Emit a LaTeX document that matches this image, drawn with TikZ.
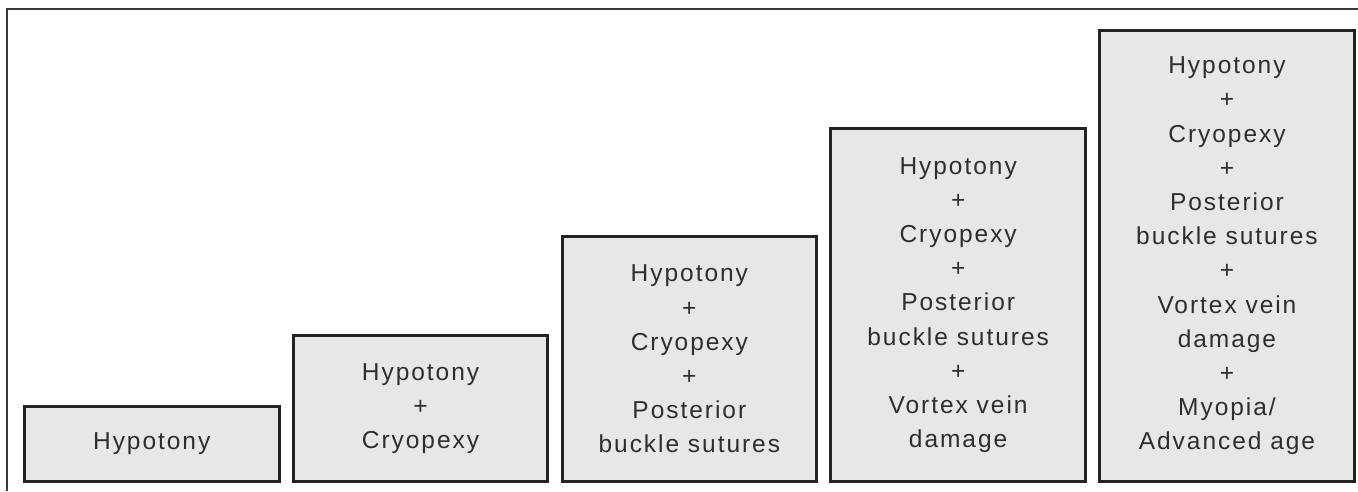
\documentclass[tikz,border=0pt]{standalone}
\usepackage{fontspec}
\setmainfont{Liberation Sans}[LetterSpace=8]
\definecolor{boxfill}{HTML}{E6E7E9}
\definecolor{boxline}{HTML}{232323}
\definecolor{ink}{HTML}{2E2E2E}
\definecolor{rule}{HTML}{3A3A3A}
\begin{document}
\begin{tikzpicture}[x=1pt,y=-1pt,
  stage/.style={draw=boxline, fill=boxfill, line width=3pt,
    minimum width=254.5pt, inner sep=0pt, align=center, text=ink,
    font=\fontsize{24.5}{34.2}\selectfont, anchor=south west},
  frameline/.style={draw=rule, line width=1.7pt}]
  \useasboundingbox (0,0) rectangle (1358,491);
  % open frame: left and top edges only
  \coordinate (fbl) at (7,491);
  \coordinate (ftl) at (7,9);
  \coordinate (ftr) at (1358,9);
  \draw[frameline] (fbl) -- (ftl) -- (ftr);
  % rising staircase of risk factors
  \node[stage, minimum height=75pt] (b1) at (23,483) {Hypotony};
  \node[stage, minimum height=146pt] (b2) at (291.8,483)
    {Hypotony\\+\\Cryopexy};
  \node[stage, minimum height=245pt] (b3) at (560.6,483)
    {Hypotony\\+\\Cryopexy\\+\\Posterior\\buckle sutures};
  \node[stage, minimum height=353pt] (b4) at (829.4,483)
    {Hypotony\\+\\Cryopexy\\+\\Posterior\\buckle sutures\\+\\Vortex vein\\damage};
  \node[stage, minimum height=451pt] (b5) at (1098.2,483)
    {Hypotony\\+\\Cryopexy\\+\\Posterior\\buckle sutures\\+\\Vortex vein\\damage\\+\\Myopia/\\Advanced age};
\end{tikzpicture}
\end{document}
